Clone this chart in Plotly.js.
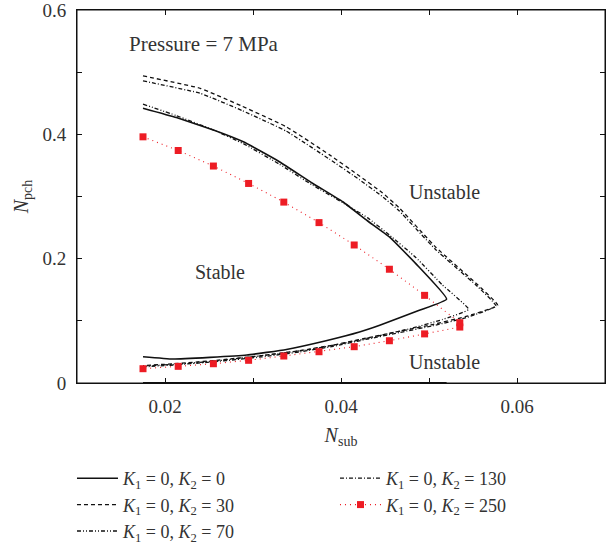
<!DOCTYPE html>
<html>
<head>
<meta charset="utf-8">
<script src="https://cdn.plot.ly/plotly-3.0.1.min.js"></script>
<style>
  html, body { margin: 0; padding: 0; background: #fff; }
  #chart { width: 606px; height: 548px; }
</style>
</head>
<body>
<div id="chart"></div>
<script>
// ---- Data ----
// K1 = 0, K2 = 0 (upper branch to the tip, then lower branch back)
const xK0 = [0.0175,0.0213,0.0255,0.0289,0.0330,0.0368,0.0402,0.0430,0.0455,0.0485,0.0520,
             0.0489,0.0444,0.0421,0.0383,0.0338,0.0293,0.0251,0.0209,0.0175];
const yK0 = [0.442,0.427,0.407,0.388,0.356,0.321,0.2915,0.261,0.235,0.192,0.135,
             0.117,0.093,0.082,0.068,0.054,0.045,0.0413,0.0386,0.0423];

// K1 = 0, K2 = 30
const xK30 = [0.0175,0.0240,0.0288,0.0338,0.0387,0.0421,0.0447,0.0466,0.0508,0.0553,0.0578,
              0.0542,0.0504,0.0466,0.0428,0.0391,0.0353,0.0310,0.0255,0.0210,0.0175];
const yK30 = [0.494,0.474,0.445,0.412,0.367,0.333,0.306,0.282,0.218,0.161,0.125,
              0.107,0.094,0.083,0.072,0.061,0.052,0.044,0.036,0.031,0.028];

// K1 = 0, K2 = 70
const xK70 = [0.0175,0.0213,0.0255,0.0289,0.0330,0.0368,0.0402,0.0430,0.0455,0.0485,0.0515,0.0545,
              0.0515,0.0480,0.0440,0.0400,0.0360,0.0310,0.0255,0.0210,0.0175];
const yK70 = [0.4486,0.430,0.407,0.385,0.352,0.318,0.290,0.266,0.238,0.202,0.158,0.1185,
              0.102,0.088,0.075,0.063,0.053,0.044,0.035,0.030,0.027];

// K1 = 0, K2 = 130
const xK130 = [0.0175,0.0240,0.0288,0.0338,0.0387,0.0421,0.0447,0.0466,0.0508,0.0553,0.0576,
               0.0542,0.0504,0.0466,0.0428,0.0391,0.0353,0.0310,0.0255,0.0210,0.0175];
const yK130 = [0.486,0.466,0.438,0.405,0.360,0.327,0.300,0.277,0.214,0.158,0.124,
               0.105,0.092,0.081,0.070,0.059,0.050,0.042,0.034,0.029,0.026];

// K1 = 0, K2 = 250 (markers)
const xK250 = [0.0175,0.0215,0.0255,0.0295,0.0335,0.0375,0.0415,0.0455,0.0495,0.0535,
               0.0535,0.0495,0.0455,0.0415,0.0375,0.0335,0.0295,0.0255,0.0215,0.0175];
const yK250 = [0.396,0.374,0.349,0.321,0.291,0.258,0.222,0.183,0.141,0.097,
               0.090,0.079,0.068,0.0584,0.0503,0.0434,0.0365,0.031,0.0268,0.023];

// zero-line segment of the K2 = 0 curve along the x axis
const xBase = [0.0175, 0.052];
const yBase = [0, 0];

const names = [
  '<i>K</i><sub>1</sub> = 0, <i>K</i><sub>2</sub> = 0',
  '<i>K</i><sub>1</sub> = 0, <i>K</i><sub>2</sub> = 30',
  '<i>K</i><sub>1</sub> = 0, <i>K</i><sub>2</sub> = 70',
  '<i>K</i><sub>1</sub> = 0, <i>K</i><sub>2</sub> = 130',
  '<i>K</i><sub>1</sub> = 0, <i>K</i><sub>2</sub> = 250'
];

const xRange = [0.01, 0.07];
const yRange = [0, 0.6];
const xTickVals = [0.01,0.02,0.03,0.04,0.05,0.06,0.07];
const xTickText = ['', '0.02', '', '0.04', '', '0.06', ''];
const yTickVals = [0,0.1,0.2,0.3,0.4,0.5,0.6];
const yTickText = ['0', '', '0.2', '', '0.4', '', '0.6'];

const FONT = 'Liberation Serif, Times New Roman, serif';
const TXT = '#333333';
const SM = 0.35;

const traces = [
  { x: xK0, y: yK0, mode: 'lines', name: names[0], legend: 'legend',
    line: { color: '#111', width: 1.6, dash: 'solid', shape: 'spline', smoothing: SM } },
  { x: xK30, y: yK30, mode: 'lines', name: names[1], legend: 'legend',
    line: { color: '#111', width: 1.3, dash: '4px,3px', shape: 'spline', smoothing: SM } },
  { x: xK70, y: yK70, mode: 'lines', name: names[2], legend: 'legend',
    line: { color: '#111', width: 1.3, dash: '4px,2px,1px,2px,1px,2px', shape: 'spline', smoothing: SM } },
  { x: xK130, y: yK130, mode: 'lines', name: names[3], legend: 'legend2',
    line: { color: '#111', width: 1.3, dash: '4px,2px,1px,2px', shape: 'spline', smoothing: SM } },
  { x: xK250, y: yK250, mode: 'lines+markers', name: names[4], legend: 'legend2',
    line: { color: '#ed1c24', width: 1.1, dash: '1px,4px' },
    marker: { symbol: 'square', size: 7, color: '#ed1c24' } },
  { x: xBase, y: yBase, mode: 'lines', showlegend: false, hoverinfo: 'skip',
    xaxis: 'x2', yaxis: 'y2',
    line: { color: '#111', width: 2.2 } }
];

const axCommon = {
  ticks: 'inside', ticklen: 5, tickwidth: 1, tickcolor: '#111',
  showline: true, linecolor: '#111', linewidth: 1,
  showgrid: false, zeroline: false, ticklabeloverflow: 'allow'
};

const layout = {
  width: 606, height: 548,
  margin: { l: 77, r: 1, t: 10, b: 165, autoexpand: false },
  paper_bgcolor: '#fff', plot_bgcolor: '#fff',
  font: { family: FONT, color: TXT, size: 19 },
  showlegend: true,
  xaxis: Object.assign({}, axCommon, {
    range: xRange, tickvals: xTickVals, ticktext: xTickText,
    ticklabelstandoff: 6,
    tickfont: { family: FONT, size: 19, color: TXT },
    title: { text: '<i>N</i><sub>sub</sub>', font: { family: FONT, size: 20, color: TXT }, standoff: 12 }
  }),
  yaxis: Object.assign({}, axCommon, {
    range: yRange, tickvals: yTickVals, ticktext: yTickText,
    ticklabelstandoff: 6,
    tickfont: { family: FONT, size: 19, color: TXT },
    title: { text: '<i>N</i><sub>pch</sub>', font: { family: FONT, size: 20, color: TXT }, standoff: 8 }
  }),
  xaxis2: Object.assign({}, axCommon, {
    overlaying: 'x', side: 'top', anchor: 'y2',
    range: xRange, tickvals: xTickVals, showticklabels: false
  }),
  yaxis2: Object.assign({}, axCommon, {
    overlaying: 'y', side: 'right', anchor: 'x2',
    range: yRange, tickvals: yTickVals, showticklabels: false
  }),
  shapes: [
    { type: 'rect', xref: 'paper', yref: 'paper', x0: 0, x1: 1, y0: 0, y1: 1,
      line: { color: '#111', width: 1 }, fillcolor: 'rgba(0,0,0,0)', layer: 'above' }
  ],
  legend: {
    x: -0.0095, y: -0.2064, xanchor: 'left', yanchor: 'top',
    bgcolor: 'rgba(0,0,0,0)', itemwidth: 41,
    font: { family: FONT, size: 18, color: TXT },
    tracegroupgap: 0
  },
  legend2: {
    x: 0.4886, y: -0.2064, xanchor: 'left', yanchor: 'top',
    bgcolor: 'rgba(0,0,0,0)', itemwidth: 41,
    font: { family: FONT, size: 18, color: TXT },
    tracegroupgap: 0
  },
  annotations: [
    { x: 0.0244, y: 0.545, xref: 'x', yref: 'y', text: 'Pressure = 7 MPa', showarrow: false,
      font: { family: FONT, size: 21, color: TXT } },
    { x: 0.0518, y: 0.307, xref: 'x', yref: 'y', text: 'Unstable', showarrow: false,
      font: { family: FONT, size: 20, color: TXT } },
    { x: 0.0262, y: 0.178, xref: 'x', yref: 'y', text: 'Stable', showarrow: false,
      font: { family: FONT, size: 20, color: TXT } },
    { x: 0.0518, y: 0.034, xref: 'x', yref: 'y', text: 'Unstable', showarrow: false,
      font: { family: FONT, size: 20, color: TXT } }
  ]
};

Plotly.newPlot('chart', traces, layout, { staticPlot: true, displayModeBar: false });
</script>
</body>
</html>
